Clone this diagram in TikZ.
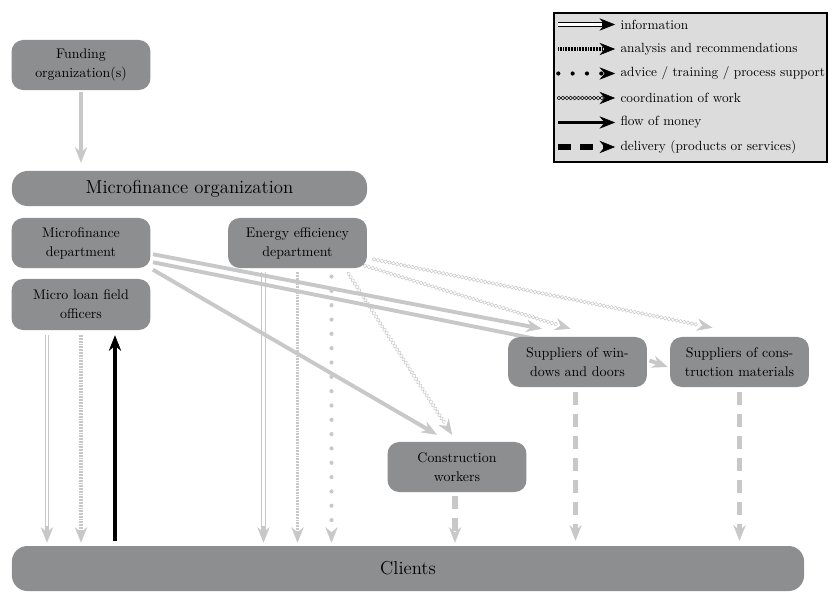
\documentclass[tikz,border=0pt]{standalone}
\usepackage{xcolor}
\usepackage{tikz}
\usetikzlibrary{arrows.meta,calc,backgrounds}
\usetikzlibrary{decorations.pathmorphing}
\definecolor{boxgray}{HTML}{8C8E90}
\definecolor{linegray}{HTML}{C8C8C8}
\definecolor{legendgray}{HTML}{DCDCDC}
\tikzstyle{tsBox} = [
    rectangle,
    rounded corners=9pt,
    fill=boxgray,
    text=black,
    align=center,
    inner sep=0pt,
    font=\fontsize{10.7}{14.5}\selectfont,
    minimum width=3.75cm,
    minimum height=1.35cm]
\tikzstyle{tsWideBox} = [
    tsBox,
    rounded corners=12pt,
    font=\fontsize{14.4}{16}\selectfont]
\tikzstyle{tsLegendText} = [
    anchor=west,
    inner sep=1pt,
    text=black,
    font=\fontsize{10.2}{11}\selectfont]
\tikzstyle{tsHead} = [
    -{Stealth[length=12pt, width=9.5pt, inset=4pt, line width=0.4pt]},
    shorten <=1pt]
\tikzstyle{tsMoney} = [tsHead, line width=3pt]
\tikzstyle{tsInfo} = [
    tsHead,
    line width=3.6pt,
    postaction={draw=white, line width=2pt, -, shorten >=13pt}]
\tikzstyle{tsAnalysis} = [tsHead, line width=3pt, dash pattern=on 0.6pt off 0.6pt]
\tikzstyle{tsAdvice} = [tsHead, line width=3.2pt, line cap=round, dash pattern=on 0pt off 11pt]
\tikzstyle{tsDelivery} = [tsHead, line width=4pt, dash pattern=on 10pt off 7pt]
\tikzstyle{tsCoord} = [
    tsHead,
    line width=0.4pt,
    dash pattern=on 0pt off 2000pt,
    postaction={draw, solid, -, decorate,
        decoration={zigzag, segment length=6pt, amplitude=1.4pt, post=moveto, post length=9pt}},
    postaction={draw, solid, -, decorate,
        decoration={zigzag, segment length=6pt, amplitude=1.4pt, mirror, post=moveto, post length=9pt}}]

\begin{document}
\begin{tikzpicture}[x=0.027cm, y=-0.027cm]

        \useasboundingbox (0,0) rectangle (834,592);

        \node[tsBox] (fund) at (81,65) {Funding\\organization(s)};
        \node[tsWideBox, minimum width=9.585cm, minimum height=0.945cm] (morg) at (189.5,188.5) {Microfinance organization};
        \node[tsBox] (mfd) at (81,243) {Microfinance\\department};
        \node[tsBox] (eed) at (297.5,243) {Energy efficiency\\department};
        \node[tsBox, minimum height=1.377cm] (offi) at (81,304.5) {Micro loan field\\officers};
        \node[tsBox] (supw) at (577.5,362) {Suppliers of win-\\dows and doors};
        \node[tsBox] (supc) at (739.5,362) {Suppliers of cons-\\truction materials};
        \node[tsBox] (cw) at (457,467) {Construction\\workers};
        \node[tsWideBox, minimum width=21.384cm, minimum height=1.215cm] (clients) at (408,568.5) {Clients};

        \begin{scope}[on background layer]
            \draw[tsMoney, color=linegray] (fund.south) -- ($(fund.south |- morg.north)+(0,-8)$);

            \draw[tsInfo, color=linegray] ($(offi.south)+(-34,3)$) -- ($(offi.south |- clients.north)+(-34,-3)$);
            \draw[tsAnalysis, color=linegray] ($(offi.south)+(0,3)$) -- ($(offi.south |- clients.north)+(0,-3)$);
            \draw[tsMoney, color=black] ($(offi.south |- clients.north)+(34,-3)$) -- ($(offi.south)+(34,5)$);

            \draw[tsInfo, color=linegray] ($(eed.south)+(-34,2)$) -- ($(eed.south |- clients.north)+(-34,-3)$);
            \draw[tsAnalysis, color=linegray] ($(eed.south)+(0,2)$) -- ($(eed.south |- clients.north)+(0,-3)$);
            \draw[tsAdvice, color=linegray] ($(eed.south)+(34,7)$) -- ($(eed.south |- clients.north)+(34,-3)$);

            \draw[tsMoney, color=linegray] ($(mfd.east)+(1,11)$) -- ($(supw.north west)+(34,-8)$);
            \draw[tsMoney, color=linegray] ($(mfd.east)+(1,19)$) -- ($(supw.north west)+(92,15)$);
            \draw[tsMoney, color=linegray] ($(mfd.east)+(1,26)$) -- ($(cw.north)+(-20,-7)$);

            \draw[tsCoord, color=linegray] ($(eed.south)+(50,4)$) -- ($(cw.north)+(-5,-7)$);
            \draw[tsCoord, color=linegray] ($(eed.south east)+(-4,-3)$) -- ($(supw.north)+(-7,-8)$);
            \draw[tsCoord, color=linegray] ($(eed.east)+(5,16)$) -- ($(supc.north)+(-27,-9)$);

            \draw[tsMoney, color=linegray] ($(supw.east)+(1,-2)$) -- ($(supc.west)+(-2,5)$);

            \draw[tsDelivery, color=linegray] ($(cw.south)+(-2,2)$) -- ($(cw.south |- clients.north)+(-2,-3)$);
            \draw[tsDelivery, color=linegray] ($(supw.south)+(-2,3)$) -- ($(supw.south |- clients.north)+(-2,-5)$);
            \draw[tsDelivery, color=linegray] ($(supc.south)+(0,3)$) -- ($(supc.south |- clients.north)+(0,-5)$);
        \end{scope}

        \node[draw=black, line width=1.5pt, fill=legendgray, minimum width=7.37cm, minimum height=4.02cm, inner sep=0pt] (legend) at (690.5,87.5) {};

        \node[tsLegendText] (tinfo) at (619,24.5) {information};
        \node[tsLegendText] (tanalysis) at (619,49) {analysis and recommendations};
        \node[tsLegendText] (tadvice) at (619,73.5) {advice / training / process support};
        \node[tsLegendText] (tcoord) at (619,98) {coordination of work};
        \node[tsLegendText] (tmoney) at (619,122.5) {flow of money};
        \node[tsLegendText] (tdelivery) at (619,147) {delivery (products or services)};

        \coordinate (sinfo) at (557,24.5);
        \coordinate (sanalysis) at (557,49);
        \coordinate (sadvice) at (557,73.5);
        \coordinate (scoord) at (557,98);
        \coordinate (smoney) at (557,122.5);
        \coordinate (sdelivery) at (557,147);

        \draw[tsInfo, black, shorten >=3pt] (sinfo) -- (tinfo.west);
        \draw[tsAnalysis, black, shorten >=3pt] (sanalysis) -- (tanalysis.west);
        \draw[tsAdvice, black, shorten >=3pt] (sadvice) -- (tadvice.west);
        \draw[tsCoord, black, shorten >=3pt] (scoord) -- (tcoord.west);
        \draw[tsMoney, black, shorten >=3pt] (smoney) -- (tmoney.west);
        \draw[tsDelivery, black, shorten >=3pt] (sdelivery) -- (tdelivery.west);

\end{tikzpicture}
\end{document}
